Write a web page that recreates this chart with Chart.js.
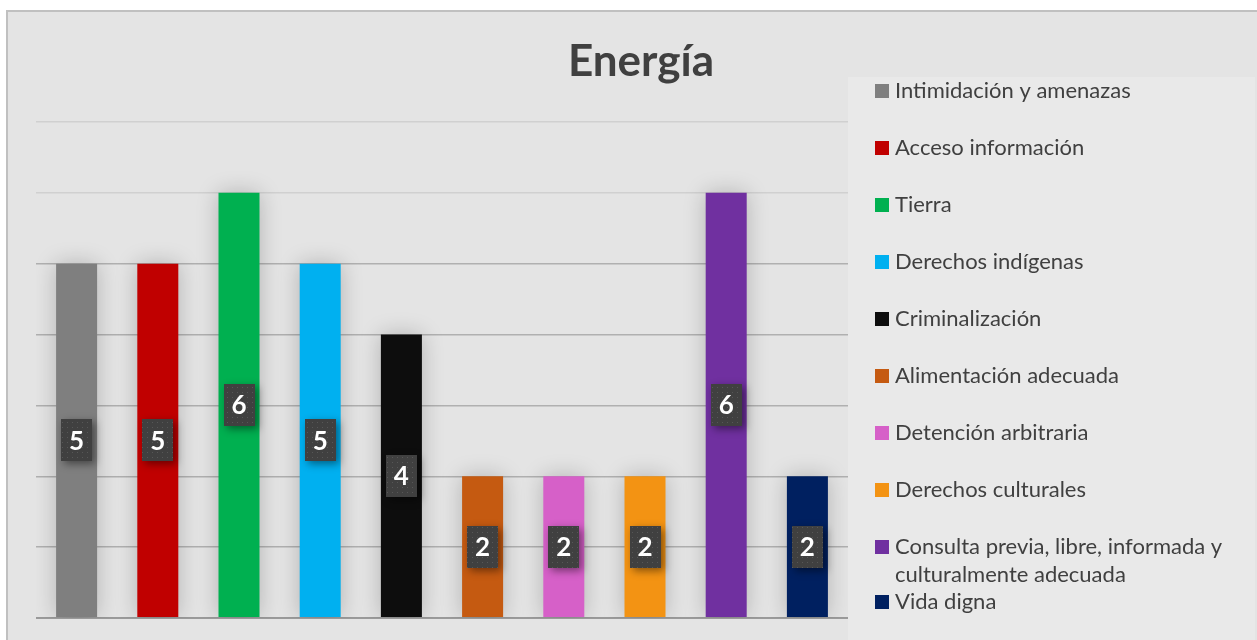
<!DOCTYPE html>
<html><head><meta charset="utf-8">
<script src="https://cdn.jsdelivr.net/npm/chart.js@4.4.1/dist/chart.umd.min.js"></script>
<style>html,body{margin:0;padding:0;background:#fff;overflow:hidden}canvas{display:block}</style>
</head><body>
<canvas id="c" width="1257" height="640"></canvas>
<script>
const chartTitle = "Energía";
const categories = ["Intimidación y amenazas","Acceso información","Tierra","Derechos indígenas","Criminalización","Alimentación adecuada","Detención arbitraria","Derechos culturales","Consulta previa, libre, informada y culturalmente adecuada","Vida digna"];
const values = [5,5,6,5,4,2,2,2,6,2];
const colors = ["#7F7F7F","#C00000","#00B050","#00B0F0","#0D0D0D","#C55A11","#D660C8","#F39313","#7030A0","#002060"];
const yTicks = [0,1,2,3,4,5,6,7];

const FONT = 'Lato, "Open Sans", sans-serif';

// dotted pattern for data label boxes
const pc = document.createElement('canvas'); pc.width = 5; pc.height = 5;
const pctx = pc.getContext('2d');
pctx.fillStyle = '#404040'; pctx.fillRect(0,0,5,5);
pctx.fillStyle = '#575757'; pctx.fillRect(2,2,1,1);

const framePlugin = {
  id: 'frame',
  beforeDraw(chart) {
    const ctx = chart.ctx;
    ctx.save();
    ctx.fillStyle = '#fff'; ctx.fillRect(0,0,chart.width,chart.height);
    ctx.fillStyle = '#E4E4E4'; ctx.fillRect(7,11,chart.width,chart.height);
    ctx.strokeStyle = '#C0C0C0'; ctx.lineWidth = 2;
    ctx.beginPath(); ctx.moveTo(7, chart.height); ctx.lineTo(7, 11); ctx.lineTo(chart.width, 11); ctx.stroke();
    // title
    ctx.fillStyle = '#404040';
    ctx.font = 'bold 44px ' + FONT;
    ctx.textAlign = 'center'; ctx.textBaseline = 'middle';
    ctx.fillText(chartTitle, 641, 62);
    ctx.restore();
  },
  beforeDatasetsDraw(chart) {
    const ctx = chart.ctx;
    ctx.save();
    ctx.shadowColor = 'rgba(0,0,0,0.22)';
    ctx.shadowBlur = 22;
  },
  afterDatasetsDraw(chart) {
    const ctx = chart.ctx;
    ctx.restore();
    const meta = chart.getDatasetMeta(0);
    const pat = ctx.createPattern(pc, 'repeat');
    meta.data.forEach((bar, i) => {
      const cx = bar.x, cy = (bar.y + bar.base) / 2;
      const w = 31, h = 42;
      ctx.save();
      ctx.shadowColor = 'rgba(0,0,0,0.45)';
      ctx.shadowBlur = 8; ctx.shadowOffsetX = 3; ctx.shadowOffsetY = 3;
      ctx.fillStyle = '#404040';
      ctx.fillRect(Math.round(cx - w/2), Math.round(cy - h/2), w, h);
      ctx.restore();
      ctx.save();
      ctx.fillStyle = pat;
      ctx.fillRect(Math.round(cx - w/2), Math.round(cy - h/2), w, h);
      ctx.fillStyle = '#FFFFFF';
      ctx.font = 'bold 26px ' + FONT;
      ctx.textAlign = 'center'; ctx.textBaseline = 'middle';
      ctx.fillText(String(values[i]), cx, cy + 1);
      ctx.restore();
    });
  },
  afterDraw(chart) {
    const ctx = chart.ctx;
    ctx.save();
    ctx.fillStyle = '#E9E9E9';
    ctx.fillRect(848, 77, 407, chart.height - 77);
    ctx.font = '22px ' + FONT;
    ctx.textBaseline = 'middle'; ctx.textAlign = 'left';
    const maxW = 350;
    let y = 91;
    categories.forEach((lab, i) => {
      // wrap
      const words = lab.split(' ');
      const lines = []; let cur = '';
      words.forEach(wd => {
        const t = cur ? cur + ' ' + wd : wd;
        if (ctx.measureText(t).width > maxW && cur) { lines.push(cur); cur = wd; } else cur = t;
      });
      lines.push(cur);
      ctx.fillStyle = colors[i];
      ctx.fillRect(875, Math.round(y) - 7, 14, 14);
      ctx.fillStyle = '#404040';
      lines.forEach((ln, k) => ctx.fillText(ln, 895, y + k * 28));
      y += lines.length > 1 ? 55 : 57;
    });
    ctx.restore();
  }
};

new Chart(document.getElementById('c'), {
  type: 'bar',
  data: {
    labels: categories,
    datasets: [{
      data: values,
      backgroundColor: colors,
      borderWidth: 0,
      barPercentage: 0.505,
      categoryPercentage: 1.0
    }]
  },
  options: {
    responsive: false,
    devicePixelRatio: 1,
    animation: false,
    layout: { padding: { left: 36, right: 409, top: 122, bottom: 22 } },
    plugins: { legend: { display: false }, title: { display: false }, tooltip: { enabled: false } },
    scales: {
      x: { display: false, grid: { display: false } },
      y: {
        min: yTicks[0], max: yTicks[yTicks.length - 1],
        afterBuildTicks(scale) { scale.ticks = yTicks.map(v => ({ value: v })); },
        ticks: { display: false },
        border: { display: false },
        grid: {
          drawTicks: false,
          color: (c) => c.tick.value === 0 ? '#9A9A9A' : (c.tick.value >= 6 ? '#D0D0D0' : '#B0B0B0'),
          lineWidth: (c) => c.tick.value === 0 ? 2 : 1.5
        }
      }
    }
  },
  plugins: [framePlugin]
});
</script>
</body></html>
